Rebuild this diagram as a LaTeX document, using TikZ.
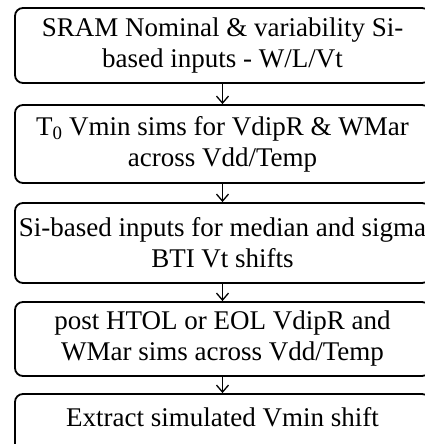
\documentclass[tikz,border=0pt]{standalone}
\usepackage{fontspec}
\setmainfont{Liberation Serif}
\usetikzlibrary{arrows.meta}
\begin{document}
\begin{tikzpicture}[
  stepbox/.style={draw, line width=1.8pt, rounded corners=8pt, minimum width=415pt, inner sep=0pt},
  steptext/.style={align=center, inner sep=0pt, font=\fontsize{27}{31}\selectfont},
  flow/.style={line width=1.3pt, -{Straight Barb[length=7pt,width=12pt,line width=1.3pt]}}]
\path[use as bounding box] (0pt,0pt) rectangle (425pt,-444pt);
\node[stepbox, minimum height=75pt] (b1) at (222.5pt,-45.5pt) {};
\node[stepbox, minimum height=78pt] (b2) at (222.5pt,-144pt) {};
\node[stepbox, minimum height=80pt] (b3) at (222.5pt,-243pt) {};
\node[stepbox, minimum height=74pt] (b4) at (222.5pt,-339pt) {};
\node[stepbox, minimum height=70pt] (b5) at (222.5pt,-429pt) {};
\node[steptext] (t1) at (b1) {SRAM Nominal \& variability Si-\\based inputs - W/L/Vt};
\node[steptext] (t2) at (b2) {T\textsubscript{0} Vmin sims for VdipR \& WMar\\across Vdd/Temp};
\node[steptext] (t3) at (b3) {Si-based inputs for median and sigma\\BTI Vt shifts};
\node[steptext] (t4) at (b4) {post HTOL or EOL VdipR and\\WMar sims across Vdd/Temp};
\node[steptext, anchor=base] (t5) at (222.5pt,-426pt) {Extract simulated Vmin shift};
\draw[flow] (b1.south) -- (b2.north);
\draw[flow] (b2.south) -- (b3.north);
\draw[flow] (b3.south) -- (b4.north);
\draw[flow] (b4.south) -- (b5.north);
\end{tikzpicture}
\end{document}
